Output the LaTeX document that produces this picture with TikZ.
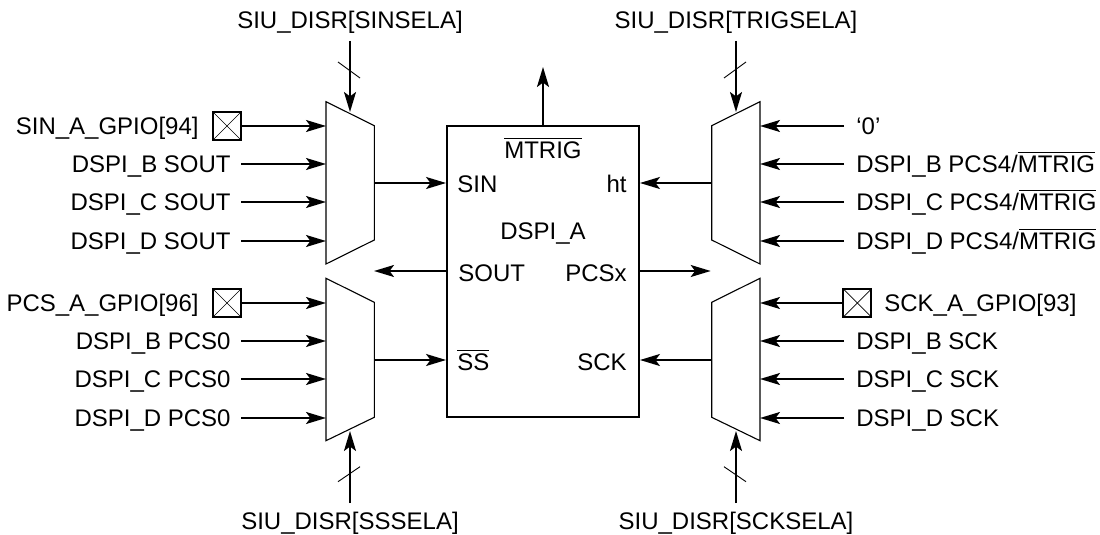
\documentclass[tikz,border=0pt]{standalone}
\usepackage{amsmath}
\usepackage{fontspec}
\setmainfont{Liberation Sans}
\usetikzlibrary{arrows.meta}

\tikzset{
  sig/.style={line width=.95pt,-{Stealth[length=10pt,width=6pt,inset=2.2pt]}},
  mux/.style={line width=.55pt},
  tickmark/.style={line width=.45pt},
  leftlabel/.style={anchor=east,inner ysep=0pt,inner xsep=5pt,text height=9pt,text depth=.7pt},
  rightlabel/.style={anchor=west,inner ysep=0pt,inner xsep=6pt,text height=9pt,text depth=.7pt},
  sellabel/.style={inner xsep=0pt,inner ysep=3.9pt,text height=9pt,text depth=2.2pt},
  portlabel/.style={inner sep=0pt},
  pad/.style={draw,line width=.95pt,inner sep=0pt,minimum size=14pt,
    path picture={
      \draw[line width=.35pt] (path picture bounding box.north west)--(path picture bounding box.south east);
      \draw[line width=.35pt] (path picture bounding box.south west)--(path picture bounding box.north east);
    }},
}

\begin{document}
\begin{tikzpicture}[x=.5pt,y=-.5pt,font=\fontsize{12}{14}\selectfont]
  \useasboundingbox (0,0) rectangle (1100,535);

  % centre block
  \node[draw,line width=.95pt,minimum width=96pt,minimum height=145.5pt] (dspi) at (543,271.5) {};
  \node[portlabel,anchor=base] (mtrig) at (543,159) {$\overline{\mbox{MTRIG}}$};
  \node[portlabel,anchor=base] (dspiname) at (543,240) {DSPI\_A};
  \node[portlabel,anchor=base west] (sin) at (457,193) {SIN};
  \node[portlabel,anchor=base east] (ht) at (627,193) {ht};
  \node[portlabel,anchor=base west] (sout) at (458,282) {SOUT};
  \node[portlabel,anchor=base east] (pcsx) at (627,282) {PCSx};
  \node[portlabel,anchor=base west] (ss) at (457,371) {$\overline{\mbox{SS}}$};
  \node[portlabel,anchor=base east] (sck) at (627,371) {SCK};
  \coordinate (mtrigend) at (543,67);
  \draw[sig] (dspi.north)--(mtrigend);

  % upper left mux
  \draw[mux] (326,101.7)--(374.3,125.7)--(374.3,240)--(326,264)--cycle;
  \coordinate (sina0) at (326,126);
  \coordinate (sina1) at (326,164);
  \coordinate (sina2) at (326,202);
  \coordinate (sina3) at (326,241);
  \coordinate (sinaout) at (374.3,183);
  \coordinate (sinasel) at (350,112);
  \node[pad] (sinpad) at (227,126) {};
  \node[leftlabel] (sinlabel) at (209,126) {SIN\_A\_GPIO[94]};
  \node[leftlabel] (soutb) at (241,164) {DSPI\_B SOUT};
  \node[leftlabel] (soutc) at (241,202) {DSPI\_C SOUT};
  \node[leftlabel] (soutd) at (241,241) {DSPI\_D SOUT};
  \node[sellabel,anchor=south] (sinselect) at (350,41) {SIU\_DISR[SINSELA]};
  \draw[sig] (sinpad.east)--(sina0);
  \draw[sig] (soutb.east)--(sina1);
  \draw[sig] (soutc.east)--(sina2);
  \draw[sig] (soutd.east)--(sina3);
  \draw[sig] (sinaout)--(sinaout -| dspi.west);
  \draw[sig] (sinselect.south)--(sinasel);
  \draw[tickmark] (338,62)--(360,78);

  % upper right mux
  \draw[mux] (711.7,125.7)--(760,101.7)--(760,264)--(711.7,240)--cycle;
  \coordinate (trig0) at (760,126);
  \coordinate (trig1) at (760,164);
  \coordinate (trig2) at (760,202);
  \coordinate (trig3) at (760,241);
  \coordinate (trigout) at (711.7,183);
  \coordinate (trigsel) at (736,112);
  \node[rightlabel] (zero) at (844,126) {‘0’};
  \node[rightlabel] (pcsb) at (844,164) {DSPI\_B PCS4/$\overline{\mbox{MTRIG}}$};
  \node[rightlabel] (pcsc) at (844,202) {DSPI\_C PCS4/$\overline{\mbox{MTRIG}}$};
  \node[rightlabel] (pcsd) at (844,241) {DSPI\_D PCS4/$\overline{\mbox{MTRIG}}$};
  \node[sellabel,anchor=south] (trigselect) at (736,41) {SIU\_DISR[TRIGSELA]};
  \draw[sig] (zero.west)--(trig0);
  \draw[sig] (pcsb.west)--(trig1);
  \draw[sig] (pcsc.west)--(trig2);
  \draw[sig] (pcsd.west)--(trig3);
  \draw[sig] (trigout)--(trigout -| dspi.east);
  \draw[sig] (trigselect.south)--(trigsel);
  \draw[tickmark] (724,78)--(746,62);

  % lower left mux
  \draw[mux] (326,278.3)--(374.3,302.3)--(374.3,417.3)--(326,440.7)--cycle;
  \coordinate (ssa0) at (326,303);
  \coordinate (ssa1) at (326,341);
  \coordinate (ssa2) at (326,379);
  \coordinate (ssa3) at (326,418);
  \coordinate (ssaout) at (374.3,360);
  \coordinate (ssasel) at (350,431);
  \node[pad] (pcspad) at (227,303) {};
  \node[leftlabel] (pcslabel) at (209,303) {PCS\_A\_GPIO[96]};
  \node[leftlabel] (pcs0b) at (241,341) {DSPI\_B PCS0};
  \node[leftlabel] (pcs0c) at (241,379) {DSPI\_C PCS0};
  \node[leftlabel] (pcs0d) at (241,418) {DSPI\_D PCS0};
  \node[sellabel,anchor=north] (ssselect) at (350,503) {SIU\_DISR[SSSELA]};
  \draw[sig] (pcspad.east)--(ssa0);
  \draw[sig] (pcs0b.east)--(ssa1);
  \draw[sig] (pcs0c.east)--(ssa2);
  \draw[sig] (pcs0d.east)--(ssa3);
  \draw[sig] (ssaout)--(ssaout -| dspi.west);
  \draw[sig] (ssselect.north)--(ssasel);
  \draw[tickmark] (338,481.7)--(360,466.7);

  % lower right mux
  \draw[mux] (711.7,302.3)--(760,278.3)--(760,440.7)--(711.7,417.3)--cycle;
  \coordinate (sck0) at (760,303);
  \coordinate (sck1) at (760,341);
  \coordinate (sck2) at (760,379);
  \coordinate (sck3) at (760,418);
  \coordinate (sckout) at (711.7,360);
  \coordinate (scksel) at (736,431);
  \node[pad] (sckpad) at (857.3,303) {};
  \node[rightlabel] (scklabel) at (872,303) {SCK\_A\_GPIO[93]};
  \node[rightlabel] (sckb) at (844,341) {DSPI\_B SCK};
  \node[rightlabel] (sckc) at (844,379) {DSPI\_C SCK};
  \node[rightlabel] (sckd) at (844,418) {DSPI\_D SCK};
  \node[sellabel,anchor=north] (sckselect) at (736,503) {SIU\_DISR[SCKSELA]};
  \draw[sig] (sckpad.west)--(sck0);
  \draw[sig] (sckb.west)--(sck1);
  \draw[sig] (sckc.west)--(sck2);
  \draw[sig] (sckd.west)--(sck3);
  \draw[sig] (sckout)--(sckout -| dspi.east);
  \draw[sig] (sckselect.north)--(scksel);
  \draw[tickmark] (724,466.7)--(746,481.7);

  % SOUT and PCSx outputs
  \coordinate (soutend) at (374,271);
  \coordinate (pcsxend) at (710.7,271);
  \draw[sig] (soutend -| dspi.west)--(soutend);
  \draw[sig] (pcsxend -| dspi.east)--(pcsxend);
\end{tikzpicture}
\end{document}
